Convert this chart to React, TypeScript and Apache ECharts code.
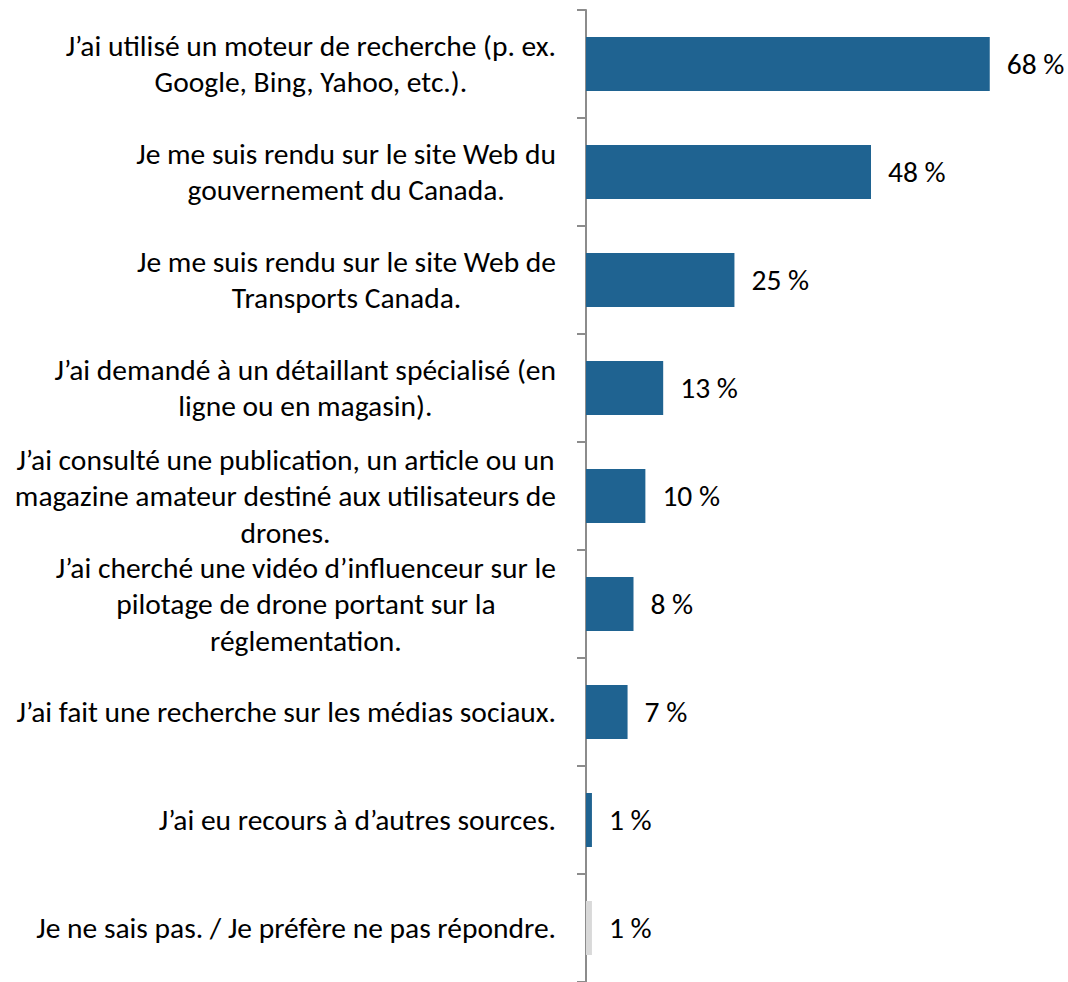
import React, { useEffect, useRef } from "react";
import * as echarts from "echarts";

const categories: string[] = [
  "J’ai utilisé un moteur de recherche (p. ex.\nGoogle, Bing, Yahoo, etc.).",
  "Je me suis rendu sur le site Web du\ngouvernement du Canada.",
  "Je me suis rendu sur le site Web de\nTransports Canada.",
  "J’ai demandé à un détaillant spécialisé (en\nligne ou en magasin).",
  "J’ai consulté une publication, un article ou un\nmagazine amateur destiné aux utilisateurs de\ndrones.",
  "J’ai cherché une vidéo d’influenceur sur le\npilotage de drone portant sur la\nréglementation.",
  "J’ai fait une recherche sur les médias sociaux.",
  "J’ai eu recours à d’autres sources.",
  "Je ne sais pas. / Je préfère ne pas répondre.",
];

const values: number[] = [68, 48, 25, 13, 10, 8, 7, 1, 1];
const barColors: string[] = [
  "#1F6391", "#1F6391", "#1F6391", "#1F6391", "#1F6391",
  "#1F6391", "#1F6391", "#1F6391", "#D9D9D9",
];

const FONT = "Carlito, Lato, 'Noto Sans', sans-serif";
const FS = 29.5;

export default function App() {
  const ref = useRef<HTMLDivElement>(null);
  useEffect(() => {
    document.body.style.margin = "0";
    if (!ref.current) return;
    const chart = echarts.init(ref.current, undefined, { renderer: "svg" });
    chart.setOption({
      animation: false,
      grid: { left: 586, right: 7, top: 10, bottom: 0, containLabel: false },
      xAxis: {
        type: "value",
        min: 0,
        max: 80,
        show: false,
      },
      yAxis: {
        type: "category",
        inverse: true,
        data: categories,
        axisLine: { show: true, lineStyle: { color: "#8C8C8C", width: 2 } },
        axisTick: { show: true, length: 9, lineStyle: { color: "#8C8C8C", width: 2 } },
        axisLabel: {
          margin: 30,
          align: "right",
          formatter: (v: string) =>
            v.split("\n").map((l) => `{c|${l}}`).join("\n"),
          rich: {
            c: {
              align: "center",
              fontSize: FS,
              lineHeight: 36.5,
              fontFamily: FONT,
              color: "#000",
            },
          },
        },
        splitLine: { show: false },
      },
      series: [
        {
          type: "bar",
          data: values.map((v, i) => ({ value: v, itemStyle: { color: barColors[i] } })),
          barCategoryGap: "50%",
          label: {
            show: true,
            position: "right",
            distance: 17,
            formatter: (p: any) => `${p.value} %`,
            fontSize: FS,
            fontFamily: FONT,
            color: "#000",
          },
        },
      ],
    });
    return () => chart.dispose();
  }, []);
  return <div ref={ref} style={{ width: 1068, height: 982 }} />;
}
